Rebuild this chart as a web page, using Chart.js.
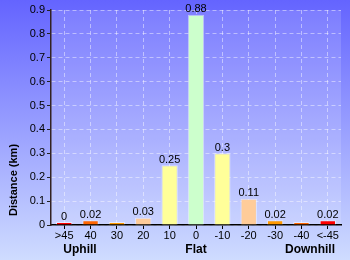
<!DOCTYPE html>
<html>
<head>
<meta charset="utf-8">
<script src="https://cdn.jsdelivr.net/npm/chart.js@4"></script>
<style>
html, body { margin: 0; padding: 0; background: #8c8cff; }
#wrap { width: 350px; height: 260px; }
</style>
</head>
<body>
<div id="wrap"><canvas id="myChart" width="350" height="260"></canvas></div>
<script>
// gradient categories (degrees)
var gradeLabels = ['>45', '40', '30', '20', '10', '0', '-10', '-20', '-30', '-40', '<-45'];
// distance in km for each gradient
var distances = [0.004, 0.02, 0.003, 0.03, 0.25, 0.88, 0.3, 0.11, 0.02, 0.003, 0.02];
// text written above bars
var valueLabels = ['0', '0.02', '', '0.03', '0.25', '0.88', '0.3', '0.11', '0.02', '', '0.02'];
var barColors = ['#ff0000', '#ff6600', '#ff9900', '#ffcc99', '#ffff99', '#ccffcc',
                 '#ffff99', '#ffcc99', '#ff9900', '#ff6600', '#ff0000'];

var FONT = '"Liberation Sans", Arial, sans-serif';

// 배경 그라데이션
var bgPlugin = {
    id: 'bgPlugin',
    beforeDraw: function(chart) {
        var ctx = chart.ctx;
        var area = chart.chartArea;
        var g = ctx.createLinearGradient(0, 0, 0, chart.height);
        g.addColorStop(0, '#6464ff');
        g.addColorStop(1, '#cfdcff');
        ctx.save();
        ctx.fillStyle = g;
        ctx.fillRect(0, 0, chart.width, chart.height);
        ctx.fillStyle = 'rgba(255,255,255,0.14)';
        ctx.fillRect(area.left, area.top, area.right - area.left, area.bottom - area.top);
        ctx.restore();
    }
};

// 막대 위 값, 아래 라벨
var textPlugin = {
    id: 'textPlugin',
    afterDatasetsDraw: function(chart) {
        var ctx = chart.ctx;
        var meta = chart.getDatasetMeta(0);
        ctx.save();
        ctx.fillStyle = '#000';
        ctx.font = '11px ' + FONT;
        ctx.textAlign = 'center';
        ctx.textBaseline = 'bottom';
        for (var i = 0; i < meta.data.length; i++) {
            var bar = meta.data[i];
            ctx.fillText(valueLabels[i], bar.x, bar.y);
        }
        ctx.font = 'bold 12px ' + FONT;
        ctx.textBaseline = 'middle';
        ctx.fillText('Uphill', 80, 250);
        ctx.fillText('Flat', 196, 250);
        ctx.fillText('Downhill', 310, 250);

        ctx.translate(14, 180);
        ctx.rotate(-Math.PI / 2);
        ctx.font = 'bold 11px ' + FONT;
        ctx.fillText('Distance (km)', 0, 0);
        ctx.restore();
    }
};

var ctx1 = document.getElementById('myChart').getContext('2d');
var myChart1 = new Chart(ctx1, {
    type: 'bar',
    data: {
        labels: gradeLabels,
        datasets: [{
            data: distances,
            backgroundColor: barColors,
            borderColor: 'rgba(255,255,255,0.5)',
            borderWidth: 1,
            minBarLength: 3,
            barPercentage: 0.62,
            categoryPercentage: 1.0
        }]
    },
    options: {
        responsive: false,
        animation: false,
        devicePixelRatio: 1,
        layout: { padding: { top: 10, right: 9, left: 0, bottom: 0 } },
        plugins: {
            legend: { display: false },
            tooltip: { enabled: false }
        },
        scales: {
            x: {
                afterFit: function(s) { s.height = 35; },
                grid: {
                    offset: false,
                    color: 'rgba(255,255,255,0.45)',
                    tickColor: '#000',
                    tickLength: 4
                },
                border: { color: '#000', width: 1.5, dash: [4, 3] },
                ticks: {
                    color: '#000',
                    font: { family: FONT, size: 11 },
                    padding: 0,
                    maxRotation: 0,
                    autoSkip: false
                }
            },
            y: {
                min: 0,
                max: 0.9,
                afterFit: function(s) { s.width = 51; },
                grid: {
                    color: function(c) { return c.index % 2 == 0 ? 'rgba(255,255,255,0.45)' : 'rgba(0,0,0,0)'; },
                    tickColor: function(c) { return c.index % 2 == 0 ? '#222' : '#ff0000'; },
                    tickLength: 4
                },
                border: { color: '#332222', width: 1.5, dash: [4, 3] },
                ticks: {
                    stepSize: 0.05,
                    color: '#000',
                    font: { family: FONT, size: 11 },
                    padding: 2,
                    callback: function(v, i) {
                        if (i % 2 != 0) return '';
                        return String(Math.round(v * 10) / 10);
                    }
                }
            }
        }
    },
    plugins: [bgPlugin, textPlugin]
});
</script>
</body>
</html>
